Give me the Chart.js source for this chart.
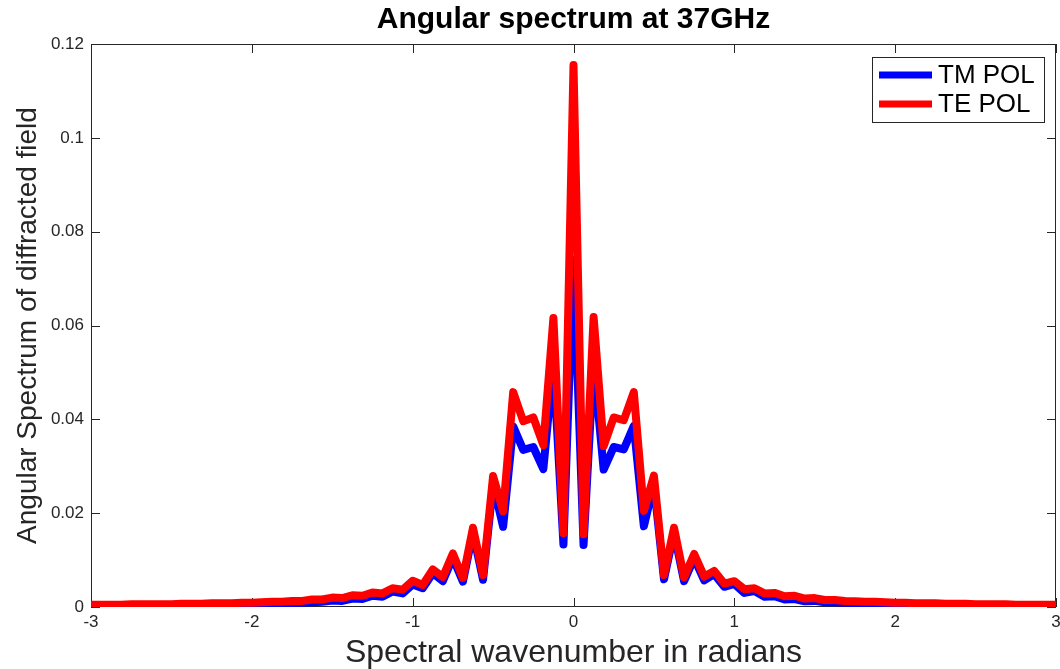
<!DOCTYPE html>
<html>
<head>
<meta charset="utf-8">
<script src="https://cdn.jsdelivr.net/npm/chart.js@4.4.1/dist/chart.umd.min.js"></script>
<style>
  html, body { margin: 0; padding: 0; background: #fff; }
  #wrap { width: 1060px; height: 669px; }
</style>
</head>
<body>
<div id="wrap"><canvas id="chart" width="1060" height="669"></canvas></div>
<script>
// spectral wavenumber samples (radians)
const wavenumber = [
  -3, -2.9375, -2.875, -2.8125, -2.75, -2.6875, -2.625, -2.5625, -2.5, -2.4375, -2.375, -2.3125,
  -2.25, -2.1875, -2.125, -2.0625, -2, -1.9375, -1.875, -1.8125, -1.75, -1.6875, -1.625, -1.5625,
  -1.5, -1.4375, -1.375, -1.3125, -1.25, -1.1875, -1.125, -1.0625, -1, -0.9375, -0.875, -0.8125,
  -0.75, -0.6875, -0.625, -0.5625, -0.5, -0.4375, -0.375, -0.3125, -0.25, -0.1875, -0.125, -0.0625,
  0,
  0.0625, 0.125, 0.1875, 0.25, 0.3125, 0.375, 0.4375, 0.5, 0.5625, 0.625, 0.6875, 0.75,
  0.8125, 0.875, 0.9375, 1, 1.0625, 1.125, 1.1875, 1.25, 1.3125, 1.375, 1.4375, 1.5,
  1.5625, 1.625, 1.6875, 1.75, 1.8125, 1.875, 1.9375, 2, 2.0625, 2.125, 2.1875, 2.25,
  2.3125, 2.375, 2.4375, 2.5, 2.5625, 2.625, 2.6875, 2.75, 2.8125, 2.875, 2.9375, 3
];

const tmPol = [
  0.0003, 0.0003, 0.0003, 0.0003, 0.0003, 0.0003, 0.0003, 0.0004, 0.0004, 0.0004, 0.0004, 0.0004,
  0.0005, 0.0005, 0.0005, 0.0006, 0.0006, 0.0006, 0.0007, 0.0007, 0.0008, 0.0009, 0.0010, 0.0011,
  0.0014, 0.0013, 0.0018, 0.0017, 0.0024, 0.0022, 0.0033, 0.0029, 0.0048, 0.0040, 0.0072, 0.0055,
  0.0105, 0.0054, 0.0159, 0.0058, 0.0262, 0.0171, 0.0385, 0.0335, 0.0341, 0.0294, 0.0520, 0.0133,
  0.0740,
  0.0132, 0.0522, 0.0293, 0.0341, 0.0336, 0.0386, 0.0172, 0.0263, 0.0059, 0.0159, 0.0055, 0.0104,
  0.0057, 0.0070, 0.0043, 0.0049, 0.0030, 0.0034, 0.0022, 0.0023, 0.0016, 0.0017, 0.0012, 0.0013,
  0.0010, 0.0010, 0.0009, 0.0008, 0.0007, 0.0007, 0.0006, 0.0006, 0.0006, 0.0005, 0.0005, 0.0005,
  0.0004, 0.0004, 0.0004, 0.0004, 0.0004, 0.0003, 0.0003, 0.0003, 0.0003, 0.0003, 0.0003, 0.0003
];

const tePol = [
  0.0005, 0.0005, 0.0005, 0.0005, 0.0006, 0.0006, 0.0006, 0.0006, 0.0006, 0.0007, 0.0007, 0.0007,
  0.0008, 0.0008, 0.0008, 0.0009, 0.0009, 0.0010, 0.0011, 0.0011, 0.0013, 0.0013, 0.0016, 0.0016,
  0.0020, 0.0019, 0.0025, 0.0024, 0.0031, 0.0029, 0.0040, 0.0037, 0.0056, 0.0047, 0.0080, 0.0064,
  0.0114, 0.0062, 0.0169, 0.0068, 0.0279, 0.0204, 0.0458, 0.0396, 0.0404, 0.0345, 0.0616, 0.0157,
  0.1155,
  0.0155, 0.0618, 0.0343, 0.0404, 0.0398, 0.0458, 0.0205, 0.0280, 0.0068, 0.0169, 0.0063, 0.0113,
  0.0065, 0.0077, 0.0050, 0.0055, 0.0038, 0.0040, 0.0029, 0.0030, 0.0023, 0.0024, 0.0018, 0.0019,
  0.0015, 0.0015, 0.0013, 0.0012, 0.0011, 0.0011, 0.0010, 0.0009, 0.0009, 0.0008, 0.0008, 0.0008,
  0.0007, 0.0007, 0.0007, 0.0006, 0.0006, 0.0006, 0.0006, 0.0005, 0.0005, 0.0005, 0.0005, 0.0005
];

const seriesNames = ["TM POL", "TE POL"];
const seriesColors = ["#0000ff", "#ff0000"];

const FONT = "Arial, 'Liberation Sans', Helvetica, sans-serif";
const AXIS = "#262626";

const toPoints = (ys) => wavenumber.map((x, i) => ({ x: x, y: ys[i] }));

// matlab style box with inward ticks
const framePlugin = {
  id: "frame",
  beforeDatasetsDraw(chart) {
    const { ctx, chartArea: a, scales } = chart;
    ctx.save();
    ctx.strokeStyle = AXIS;
    ctx.lineWidth = 1;
    ctx.strokeRect(a.left + 0.5, a.top + 0.5, a.width - 1, a.height - 1);
    ctx.beginPath();
    scales.x.ticks.forEach((t) => {
      const px = Math.round(scales.x.getPixelForValue(t.value)) + 0.5;
      ctx.moveTo(px, a.bottom); ctx.lineTo(px, a.bottom - 9);
      ctx.moveTo(px, a.top); ctx.lineTo(px, a.top + 9);
    });
    scales.y.ticks.forEach((t) => {
      const py = Math.round(scales.y.getPixelForValue(t.value)) + 0.5;
      ctx.moveTo(a.left, py); ctx.lineTo(a.left + 9, py);
      ctx.moveTo(a.right, py); ctx.lineTo(a.right - 9, py);
    });
    ctx.stroke();
    ctx.restore();
  }
};

// legend box in the upper right corner of the axes
const legendPlugin = {
  id: "boxLegend",
  afterDatasetsDraw(chart) {
    const { ctx, chartArea: a } = chart;
    const w = 172, h = 65;
    const left = a.right - 12 - w, top = a.top + 13;
    ctx.save();
    ctx.fillStyle = "#fff";
    ctx.fillRect(left, top, w, h);
    ctx.strokeStyle = AXIS;
    ctx.lineWidth = 1;
    ctx.strokeRect(left + 0.5, top + 0.5, w, h);
    chart.data.datasets.forEach((ds, i) => {
      const cy = top + 18 + i * 29;
      ctx.strokeStyle = ds.borderColor;
      ctx.lineWidth = 7;
      ctx.beginPath();
      ctx.moveTo(left + 7, cy);
      ctx.lineTo(left + 60, cy);
      ctx.stroke();
      ctx.fillStyle = "#000";
      ctx.font = "26px " + FONT;
      ctx.textBaseline = "middle";
      ctx.fillText(ds.label, left + 66, cy + 1);
    });
    ctx.restore();
  }
};

new Chart(document.getElementById("chart"), {
  type: "line",
  data: {
    datasets: seriesNames.map((name, i) => ({
      label: name,
      data: toPoints(i === 0 ? tmPol : tePol),
      order: i === 0 ? 1 : 0, // TE drawn on top of TM
      borderColor: seriesColors[i],
      backgroundColor: seriesColors[i],
      borderWidth: 8,
      borderJoinStyle: "round",
      borderCapStyle: "round",
      pointRadius: 0,
      tension: 0,
      fill: false
    }))
  },
  options: {
    responsive: false,
    animation: false,
    layout: { padding: { left: 0, right: 4, top: 0, bottom: 0 } },
    plugins: {
      legend: { display: false },
      tooltip: { enabled: false },
      title: {
        display: true,
        text: "Angular spectrum at 37GHz",
        fullSize: false,
        color: "#000",
        font: { family: FONT, size: 30, weight: "bold", lineHeight: 1 },
        padding: { top: 5, bottom: 9 }
      }
    },
    scales: {
      x: {
        type: "linear",
        min: -3,
        max: 3,
        grid: { display: false, drawTicks: false },
        border: { display: false },
        ticks: {
          stepSize: 1,
          color: AXIS,
          padding: 5,
          maxRotation: 0,
          font: { family: FONT, size: 17 }
        },
        title: {
          display: true,
          text: "Spectral wavenumber in radians",
          color: AXIS,
          font: { family: FONT, size: 32, lineHeight: 1 },
          padding: { top: 0, bottom: 0 }
        },
        afterFit(scale) {
          scale.height = 62;
          // let the last tick label hang over the edge like the original
          scale.paddingLeft = 0;
          scale.paddingRight = 0;
        }
      },
      y: {
        min: 0,
        max: 0.12,
        grid: { display: false, drawTicks: false },
        border: { display: false },
        ticks: {
          stepSize: 0.02,
          color: AXIS,
          padding: 7,
          font: { family: FONT, size: 17 },
          callback: (v) => String(parseFloat(v.toFixed(2)))
        },
        title: {
          display: true,
          text: "Angular Spectrum of diffracted field",
          color: AXIS,
          font: { family: FONT, size: 28, lineHeight: 1 },
          padding: { top: 14, bottom: 0 }
        },
        afterFit(scale) { scale.width = 91; }
      }
    }
  },
  plugins: [framePlugin, legendPlugin]
});
</script>
</body>
</html>
